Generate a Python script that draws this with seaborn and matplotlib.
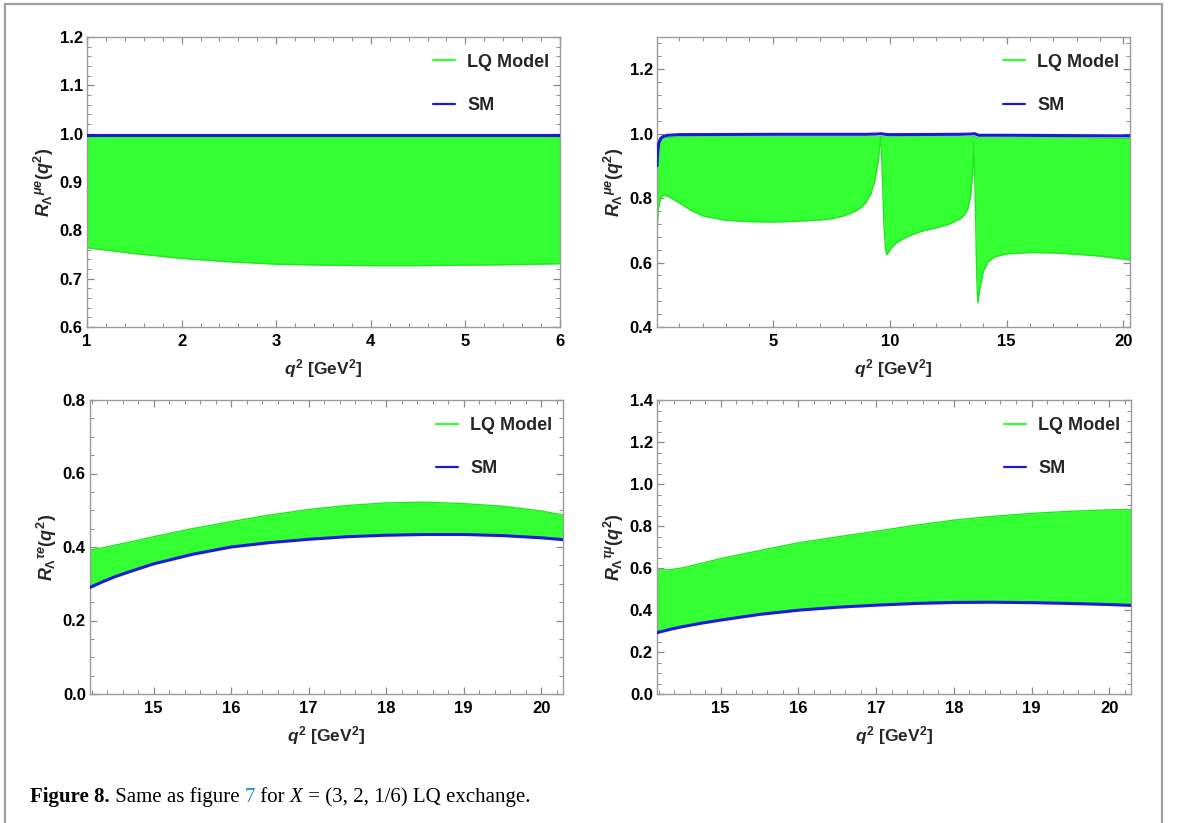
import numpy as np
import pandas as pd
import matplotlib
matplotlib.use('Agg')
import matplotlib.pyplot as plt
import seaborn as sns
from matplotlib.lines import Line2D
from matplotlib.patches import Rectangle
from matplotlib.ticker import MultipleLocator

# ---------------- data ----------------
# top-left: R^{mu e}, low q^2 bin
tl_x = [1.0, 1.5, 2.0, 2.5, 3.0, 3.5, 4.0, 4.5, 5.0, 5.5, 6.0]
tl_lq_low = [0.764, 0.752, 0.742, 0.735, 0.730, 0.728, 0.727, 0.727, 0.728, 0.729, 0.731]
tl_lq_high = [0.995, 0.995, 0.995, 0.995, 0.995, 0.995, 0.995, 0.995, 0.995, 0.995, 0.995]
tl_sm = [0.998, 0.998, 0.998, 0.998, 0.998, 0.998, 0.998, 0.998, 0.998, 0.998, 0.998]

# top-right: R^{mu e}, full q^2 range
tr_x = [0.045, 0.1, 0.2, 0.3, 0.5, 0.75, 1.0, 1.5, 2.0, 3.0,
        4.0, 5.0, 6.0, 7.0, 7.5, 8.0, 8.5, 8.8, 9.0, 9.2,
        9.35, 9.5, 9.57, 9.62, 9.68, 9.75, 9.82, 9.87, 9.95, 10.1,
        10.3, 10.6, 11.0, 11.5, 12.0, 12.5, 13.0, 13.2, 13.35, 13.47,
        13.55, 13.6, 13.66, 13.72, 13.77, 13.85, 14.0, 14.2, 14.5, 15.0,
        16.0, 17.0, 18.0, 19.0, 20.0, 20.28]
tr_lq_low = [0.70, 0.765, 0.80, 0.81, 0.806, 0.796, 0.785, 0.762, 0.745, 0.731,
             0.727, 0.726, 0.728, 0.732, 0.736, 0.744, 0.758, 0.772, 0.788, 0.815,
             0.85, 0.91, 0.96, 0.99, 0.88, 0.72, 0.64, 0.625, 0.632, 0.648,
             0.662, 0.675, 0.688, 0.700, 0.708, 0.718, 0.735, 0.748, 0.768, 0.81,
             0.88, 0.975, 0.80, 0.56, 0.475, 0.515, 0.572, 0.602, 0.618, 0.627,
             0.631, 0.630, 0.626, 0.620, 0.611, 0.608]
tr_lq_high = [0.895, 0.955, 0.978, 0.985, 0.988, 0.989, 0.990, 0.990, 0.990, 0.990,
              0.990, 0.990, 0.990, 0.990, 0.990, 0.990, 0.990, 0.990, 0.990, 0.990,
              0.990, 0.990, 0.990, 0.992, 0.990, 0.990, 0.990, 0.990, 0.990, 0.990,
              0.990, 0.990, 0.990, 0.990, 0.990, 0.990, 0.990, 0.990, 0.990, 0.990,
              0.991, 0.992, 0.990, 0.988, 0.987, 0.987, 0.987, 0.987, 0.987, 0.987,
              0.987, 0.987, 0.987, 0.986, 0.985, 0.985]
tr_sm_x = [0.045, 0.08, 0.12, 0.2, 0.3, 0.5, 1.0, 5.0, 9.0, 9.5,
           9.62, 9.8, 10.0, 13.0, 13.5, 13.63, 13.8, 15.0, 20.28]
tr_sm = [0.90, 0.945, 0.97, 0.985, 0.991, 0.995, 0.997, 0.998, 0.998, 0.999,
         1.0, 0.998, 0.997, 0.998, 0.999, 1.0, 0.995, 0.995, 0.993]

# bottom-left: R^{tau e}
bl_x = [14.18, 14.35, 14.5, 14.75, 15.0, 15.5, 16.0, 16.5, 17.0, 17.5, 18.0, 18.5, 19.0, 19.5, 20.0, 20.28]
bl_sm = [0.290, 0.306, 0.319, 0.337, 0.354, 0.380, 0.400, 0.412, 0.421, 0.428, 0.432, 0.434, 0.434, 0.431, 0.425, 0.420]
bl_lq_high = [0.392, 0.398, 0.405, 0.416, 0.428, 0.450, 0.469, 0.487, 0.502, 0.513, 0.520, 0.522, 0.518, 0.511, 0.498, 0.487]

# bottom-right: R^{tau mu}
br_x = [14.18, 14.35, 14.5, 14.75, 15.0, 15.5, 16.0, 16.5, 17.0, 17.5, 18.0, 18.5, 19.0, 19.5, 20.0, 20.28]
br_sm = [0.292, 0.308, 0.320, 0.337, 0.352, 0.379, 0.399, 0.413, 0.423, 0.431, 0.436, 0.437, 0.435, 0.431, 0.426, 0.422]
br_lq_high = [0.590, 0.592, 0.600, 0.622, 0.645, 0.683, 0.720, 0.748, 0.775, 0.803, 0.828, 0.846, 0.860, 0.870, 0.877, 0.878]

legend_labels = ["LQ Model", "SM"]
ylabels = [r'${R_{\Lambda}}^{\mu e}(q^2)$', r'${R_{\Lambda}}^{\mu e}(q^2)$',
           r'${R_{\Lambda}}^{\tau e}(q^2)$', r'${R_{\Lambda}}^{\tau\mu}(q^2)$']
xlabel = r'$q^2$ [GeV$^2$]'
caption_parts = ["Figure 8.", " Same as figure ", "7", " for ", "X", " = (3, 2, 1/6) LQ exchange."]

# ---------------- style ----------------
sns.set_theme(style='white')
plt.rcParams['font.family'] = ['Liberation Sans', 'DejaVu Sans']
plt.rcParams.update({
    'font.weight': 'bold',
    'mathtext.fontset': 'custom',
    'mathtext.rm': 'Liberation Sans:bold',
    'mathtext.it': 'Liberation Sans:bold:italic',
    'mathtext.bf': 'Liberation Sans:bold',
    'mathtext.sf': 'Liberation Sans:bold',
})

GREEN_FILL = '#33FF33'
GREEN_EDGE = '#22E622'
BLUE = '#1A1ADB'
FRAME = '#9A9A9A'

W, H = 1179, 823
fig = plt.figure(figsize=(W / 100, H / 100), dpi=100)


def px_axes(l, r, t, b):
    return fig.add_axes([l / W, 1 - b / H, (r - l) / W, (b - t) / H])


def style_axes(ax, xlim, ylim, xmaj, xmin_, ymaj, ymin_, ylabel):
    ax.set_xlim(*xlim)
    ax.set_ylim(*ylim)
    ax.xaxis.set_major_locator(MultipleLocator(xmaj))
    ax.xaxis.set_minor_locator(MultipleLocator(xmin_))
    ax.yaxis.set_major_locator(MultipleLocator(ymaj))
    ax.yaxis.set_minor_locator(MultipleLocator(ymin_))
    ax.tick_params(which='both', direction='in', bottom=True, left=True, top=True, right=True,
                   color='#8A8A8A', labelcolor='black', labelsize=12)
    ax.tick_params(which='major', length=5, width=0.9)
    ax.tick_params(which='minor', length=3, width=0.7)
    ax.tick_params(axis='x', pad=5)
    ax.tick_params(axis='y', pad=3)
    for lbl in ax.get_xticklabels() + ax.get_yticklabels():
        lbl.set_fontweight('bold')
    for sp in ax.spines.values():
        sp.set_color(FRAME)
        sp.set_linewidth(1.0)
    ax.set_xlabel(xlabel, fontsize=12.5, fontweight='bold', labelpad=6)
    ax.set_ylabel(ylabel, fontsize=13, fontweight='bold', labelpad=3)
    handles = [Line2D([], [], color=GREEN_FILL, lw=1.6), Line2D([], [], color=BLUE, lw=1.6)]
    ax.legend(handles, legend_labels, loc='upper right', bbox_to_anchor=(0.985, 0.955),
              frameon=False, fontsize=13, handlelength=1.2, handletextpad=0.7,
              labelspacing=1.45, borderpad=0.2, borderaxespad=0)


def band(ax, x, lo, hi):
    ax.fill_between(x, lo, hi, color=GREEN_FILL, lw=0, zorder=1)
    sns.lineplot(x=x, y=lo, ax=ax, color=GREEN_EDGE, lw=1.0, zorder=2, estimator=None, sort=False)
    sns.lineplot(x=x, y=hi, ax=ax, color=GREEN_EDGE, lw=1.0, zorder=2, estimator=None, sort=False)


def sm_line(ax, x, y):
    sns.lineplot(x=x, y=y, ax=ax, color=BLUE, lw=2.2, zorder=3, estimator=None, sort=False)


# top-left
ax1 = px_axes(87, 560, 37, 327)
band(ax1, tl_x, tl_lq_low, tl_lq_high)
sm_line(ax1, tl_x, tl_sm)
style_axes(ax1, (1, 6), (0.6, 1.2), 1, 0.2, 0.1, 0.02, ylabels[0])

# top-right
ax2 = px_axes(657, 1130, 37, 327)
band(ax2, tr_x, tr_lq_low, tr_lq_high)
sm_line(ax2, tr_sm_x, tr_sm)
style_axes(ax2, (0.045, 20.28), (0.4, 1.3), 5, 1, 0.2, 0.04, ylabels[1])

# bottom-left
ax3 = px_axes(90, 563, 400, 694)
band(ax3, bl_x, bl_sm, bl_lq_high)
sm_line(ax3, bl_x, bl_sm)
style_axes(ax3, (14.18, 20.28), (0.0, 0.8), 1, 0.2, 0.2, 0.05, ylabels[2])

# bottom-right
ax4 = px_axes(657, 1131, 400, 694)
band(ax4, br_x, br_sm, br_lq_high)
sm_line(ax4, br_x, br_sm)
style_axes(ax4, (14.18, 20.28), (0.0, 1.4), 1, 0.2, 0.2, 0.05, ylabels[3])

# outer frame of the figure box
fig.patches.append(Rectangle((5 / W, -0.05), (1162 - 5) / W, 1.05 - 4 / H,
                             transform=fig.transFigure, fill=False,
                             edgecolor='#A0A0A0', lw=1.6, zorder=0))

# caption
fig.canvas.draw()
renderer = fig.canvas.get_renderer()
xpos = 30 / W
ypos = 1 - 802 / H
styles = [dict(weight='bold'), dict(), dict(color='#2A8CCB'), dict(), dict(style='italic'), dict()]
for s, kw in zip(caption_parts, styles):
    t = fig.text(xpos, ypos, s, family=['Liberation Serif', 'DejaVu Serif'], fontsize=15,
                 weight=kw.get('weight', 'normal'), style=kw.get('style', 'normal'),
                 color=kw.get('color', 'black'), va='baseline', ha='left')
    bb = t.get_window_extent(renderer)
    xpos += bb.width / W

fig.savefig('out.png', dpi=100)
